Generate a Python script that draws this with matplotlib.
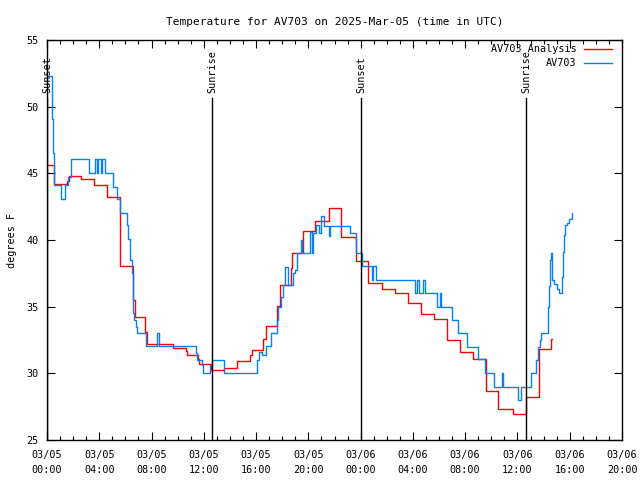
import datetime as dt
import matplotlib
matplotlib.use('Agg')
import matplotlib.pyplot as plt
import matplotlib.dates as mdates
import matplotlib.transforms as mtransforms

# hours after 2025-03-05 00:00 UTC
base = dt.datetime(2025, 3, 5)

obs_hours = [0.00, 0.38, 0.44, 0.54, 1.05, 1.38, 1.63, 1.81, 3.21, 3.67, 3.80, 3.93, 4.11, 4.21,
             4.44, 5.08, 5.38, 5.59, 6.10, 6.22, 6.35, 6.48, 6.55, 6.60, 6.68, 6.81, 6.91, 7.57,
             8.39, 8.55, 11.38, 11.50, 11.84, 11.96, 12.47, 12.63, 13.55, 16.04, 16.24, 16.43,
             16.76, 17.12, 17.58, 17.70, 17.88, 18.04, 18.24, 18.44, 18.85, 18.98, 19.11, 19.40,
             19.55, 20.10, 20.25, 20.38, 20.58, 20.80, 21.00, 21.20, 21.55, 21.65, 23.19, 23.65,
             23.68, 24.08, 24.85, 24.95, 25.15, 28.16, 28.35, 28.50, 28.75, 28.95, 29.84, 30.05,
             30.15, 30.97, 31.47, 32.12, 33.00, 33.52, 34.23, 34.79, 34.87, 36.07, 36.25, 37.01,
             37.42, 37.60, 37.70, 37.80, 38.36, 38.44, 38.49, 38.57, 38.62, 38.80, 39.00, 39.20,
             39.41, 39.46, 39.51, 39.59, 39.66, 39.77, 39.95, 40.20]
obs_temp = [52.3, 49.1, 46.5, 44.1, 43.05, 44.1, 44.75, 46.05, 45.0, 46.05, 45.0, 46.05, 45.0, 46.05,
            45.0, 44.0, 43.05, 42.0, 41.1, 40.1, 38.5, 37.5, 36.5, 34.5, 34.0, 33.5, 33.0, 32.05,
            33.0, 32.05, 31.5, 31.0, 30.6, 30.0, 30.6, 31.0, 30.0, 31.0, 31.6, 31.4,
            32.05, 33.0, 34.0, 35.0, 35.75, 36.6, 38.0, 36.6, 37.5, 37.75, 39.0, 40.0,
            39.0, 40.6, 39.0, 40.5, 41.1, 40.5, 41.8, 41.05, 40.3, 41.05, 40.5, 40.05,
            39.0, 38.05, 37.0, 38.05, 37.0, 36.0, 37.0, 36.0, 37.0, 36.0, 35.0, 36.0,
            35.0, 34.0, 33.0, 32.0, 31.05, 30.0, 28.95, 30.0, 28.95, 28.0, 28.95, 30.0,
            31.0, 32.0, 32.5, 33.0, 35.0, 36.55, 38.5, 39.0, 37.0, 36.7, 36.3, 36.0,
            37.2, 37.75, 39.1, 40.4, 41.1, 41.25, 41.6, 42.0]

ana_hours = [0.00, 0.54, 1.53, 1.68, 2.58, 3.60, 4.61, 5.62, 6.60, 6.71, 7.52, 7.63, 9.62, 10.61,
             10.69, 11.58, 11.65, 12.55, 13.54, 14.56, 15.53, 15.66, 16.55, 16.74, 17.60, 17.85,
             18.65, 18.72, 19.61, 20.51, 21.58, 22.52, 23.65, 24.59, 25.61, 26.63, 27.65, 28.60,
             29.61, 30.59, 31.60, 32.58, 33.59, 34.54, 35.64, 36.63, 37.63, 38.54, 38.62]
ana_temp = [45.6, 44.2, 44.4, 44.8, 44.6, 44.1, 43.2, 38.05, 35.5, 34.2, 33.1, 32.2, 31.9, 31.7,
            31.35, 31.05, 30.7, 30.25, 30.4, 30.9, 31.4, 31.75, 32.6, 33.55, 35.05, 36.6,
            37.9, 39.05, 40.65, 41.45, 42.4, 40.25, 38.45, 36.8, 36.3, 36.05, 35.3, 34.45,
            34.05, 32.5, 31.6, 31.07, 28.7, 27.3, 26.95, 28.2, 31.8, 32.55, 32.55]

event_hours = [0.02, 12.63, 24.03, 36.65]
event_names = ['Sunset', 'Sunrise', 'Sunset', 'Sunrise']

def to_time(hours):
    return [base + dt.timedelta(hours=h) for h in hours]

plt.rcParams['font.family'] = 'DejaVu Sans Mono'
plt.rcParams['font.size'] = 7.3

fig = plt.figure(figsize=(6.4, 4.8), dpi=100)
ax = fig.add_axes([47/640, 40/480, 575/640, 400/480])

ax.plot(to_time(ana_hours), ana_temp, drawstyle='steps-post', color='#ff0000', lw=1.0,
        label='AV703 Analysis')
ax.plot(to_time(obs_hours), obs_temp, drawstyle='steps-post', color='#0a80f0', lw=1.0,
        label='AV703')

trans = mtransforms.blended_transform_factory(ax.transData, ax.transAxes)
for h, name in zip(event_hours, event_names):
    t = mdates.date2num(base + dt.timedelta(hours=h))
    ax.axvline(t, ymin=0, ymax=0.855, color='black', lw=1.0)
    ax.text(t, 0.868, name, rotation=90, ha='center', va='bottom', transform=trans)

ax.set_xlim(base, base + dt.timedelta(hours=44))
ax.set_ylim(25, 55)
ax.set_yticks(range(25, 56, 5))
ax.xaxis.set_major_locator(mdates.HourLocator(byhour=range(0, 24, 4)))
ax.xaxis.set_minor_locator(mdates.HourLocator())
ax.xaxis.set_major_formatter(mdates.DateFormatter('%m/%d\n%H:%M'))
ax.tick_params(which='both', direction='in', top=True, right=True, labelsize=7.3)
ax.tick_params(which='major', length=6, width=0.8)
ax.tick_params(which='minor', length=3, width=0.8)
ax.tick_params(axis='x', pad=7)
ax.tick_params(axis='y', pad=6)
for s in ax.spines.values():
    s.set_linewidth(1.0)

ax.set_ylabel('degrees F', labelpad=7, fontsize=7.3)
ax.set_title('Temperature for AV703 on 2025-Mar-05 (time in UTC)', pad=11, fontsize=8)

ax.legend(loc='upper right', bbox_to_anchor=(0.99, 1.0), frameon=False, markerfirst=False,
          handlelength=2.8, handletextpad=0.7, labelspacing=0.4, borderaxespad=0.0,
          fontsize=7.3)

fig.canvas.draw()
plt.setp(ax.get_xticklabels(), linespacing=1.6)

fig.savefig('out.png', dpi=100)
